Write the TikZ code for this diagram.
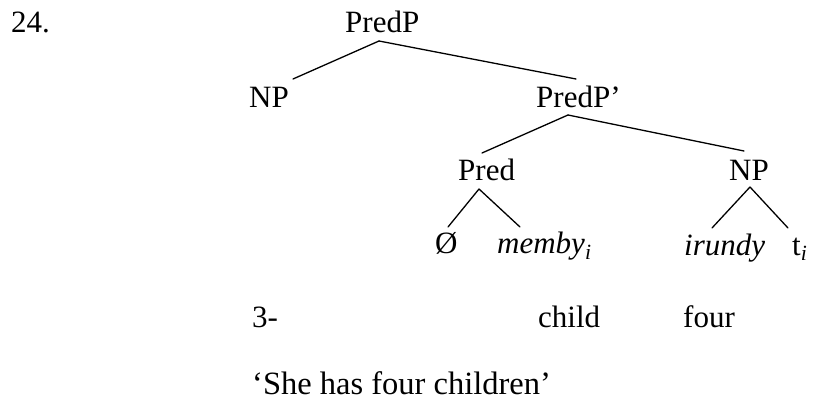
\documentclass[tikz,border=0pt]{standalone}
\usepackage{fontspec}
\setmainfont{Liberation Serif}
\begin{document}
\begin{tikzpicture}[x=1pt,y=-1pt,
  lbl/.style={anchor=base west,inner sep=0pt,font=\fontsize{31}{37}\selectfont},
  branch/.style={line width=1.3pt,line cap=round}]
\useasboundingbox (0,0) rectangle (814,406);

% example number
\node[lbl] (num) at (11,33) {24.};

% tree labels
\node[lbl] (predp)  at (345,33)  {PredP};
\node[lbl] (np1)    at (249,108) {NP};
\node[lbl] (predpp) at (536,108) {PredP’};
\node[lbl] (pred)   at (458,181) {Pred};
\node[lbl] (np2)    at (729,181) {NP};
\node[lbl] (null)   at (435,254) {Ø};
\node[lbl] (memby)  at (497,254) {\textit{memby}\textsubscript{\itshape i}};
\node[lbl] (irundy) at (684,255) {\textit{irundy}};
\node[lbl] (trace)  at (792,255) {t\textsubscript{\itshape i}};

% gloss line and translation
\node[lbl] (three) at (252,327) {3-};
\node[lbl] (child) at (538,327) {child};
\node[lbl] (four)  at (683,327) {four};
\node[lbl,font=\fontsize{32.5}{38}\selectfont] (trans) at (252,394) {‘She has four children’};

% branches
\draw[branch] ([shift={(34,8)}]predp.base west) -- ([shift={(44,-29)}]np1.base west);
\draw[branch] ([shift={(34,8)}]predp.base west) -- ([shift={(40,-29)}]predpp.base west);
\draw[branch] ([shift={(32,7)}]predpp.base west) -- ([shift={(24,-28)}]pred.base west);
\draw[branch] ([shift={(32,7)}]predpp.base west) -- ([shift={(15,-30)}]np2.base west);
\draw[branch] ([shift={(21,8)}]pred.base west) -- ([shift={(13,-27)}]null.base west);
\draw[branch] ([shift={(21,8)}]pred.base west) -- ([shift={(23,-27)}]memby.base west);
\draw[branch] ([shift={(21,6)}]np2.base west) -- ([shift={(28,-27)}]irundy.base west);
\draw[branch] ([shift={(21,6)}]np2.base west) -- ([shift={(-4,-27)}]trace.base west);
\end{tikzpicture}
\end{document}
